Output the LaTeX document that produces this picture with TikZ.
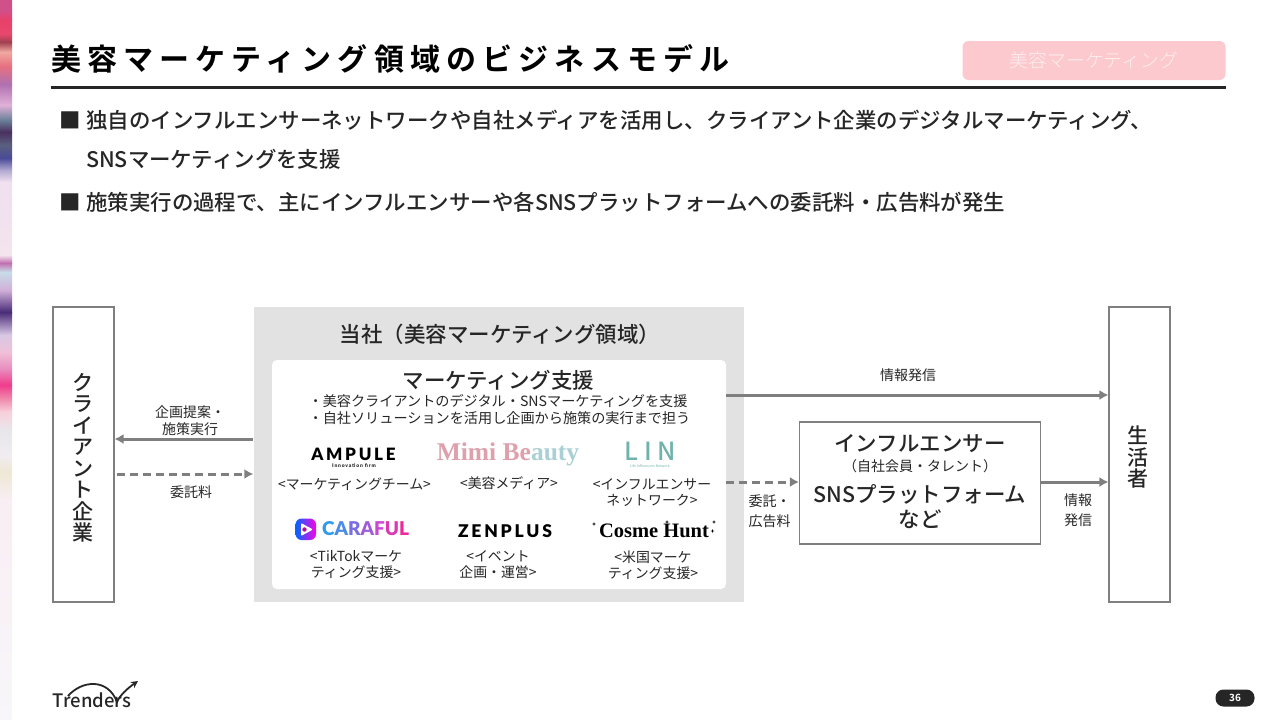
\documentclass[tikz,border=0pt]{standalone}
\usepackage{fontspec}
\setmainfont{Noto Sans CJK JP}[BoldFont={Noto Sans CJK JP Bold}]
\newfontfamily\titlefont{Noto Sans CJK JP Bold}[LetterSpace=20.5]
\newfontfamily\midfont{Noto Sans CJK JP Medium}
\newfontfamily\lightfont{Noto Sans CJK JP Light}
\newfontfamily\logofont{Lato Black}[LetterSpace=16]
\newfontfamily\roundfont{Lato Black}[LetterSpace=4]
\newfontfamily\seriffont{Liberation Serif Bold}
\usetikzlibrary{positioning,arrows.meta}
\lineskiplimit=-30pt
\definecolor{linegray}{HTML}{7F7F7F}
\definecolor{panelgray}{HTML}{E2E2E2}
\definecolor{textgray}{HTML}{262626}
\definecolor{tagpink}{HTML}{FBC9CE}
\definecolor{lincolor}{HTML}{70B2AC}
\tikzset{
    barbox/.style={draw=linegray,line width=1.1pt,fill=white,minimum width=61pt,minimum height=295pt,inner sep=0pt},
    bartext/.style={inner sep=0pt,align=center,font=\midfont\fontsize{21}{21.5}\selectfont,text=textgray},
    solidarrow/.style={draw=linegray,line width=3pt,-{Latex[length=9pt,width=10pt]}},
    dasharrow/.style={draw=linegray,line width=3pt,dash pattern=on 8pt off 5pt,-{Latex[length=9pt,width=10pt]}},
    smalllabel/.style={font=\fontsize{14}{17}\selectfont,text=textgray,align=center},
    widelabel/.style={font=\fontsize{14}{20}\selectfont,text=textgray,align=center},
    brandlabel/.style={font=\fontsize{13.9}{16}\selectfont,text=textgray,align=center},
    bullet/.style={font=\midfont\fontsize{21.45}{21.45}\selectfont,text=textgray,anchor=west,inner sep=0pt},
    heading/.style={font=\midfont\fontsize{21.45}{25}\selectfont,text=textgray,align=center},
}
\begin{document}
\begin{tikzpicture}[x=1pt,y=-1pt]
    \useasboundingbox (0,0) rectangle (1280,720);
    % Side strip
    \foreach \yb/\stripcolor [remember=\yb as \ya (initially 0),remember=\stripcolor as \stripprev (initially D0508A)] in {
        10/D0508A,20/E8406A,34/E8486E,42/A04050,52/F0A8A0,66/E87080,84/B070B0,105/E0B0D8,120/6A8098,132/4A3060,145/5A6080,158/4A4A98,170/B0A8D0,182/F0E0F0,255/F3E4EE,263/C070B0,272/C8DCE8,290/D0B0D8,312/4A2C78,335/D8C8E4,352/F0C0D8,368/E890C0,385/F03C8C,400/F090B0,412/F8D0DC,430/E8E6EA,455/F0ECF2,472/EEE8D4,500/F8EEF4,720/F8F6FA} {
        \definecolor{stripa}{HTML}{\stripprev}
        \definecolor{stripb}{HTML}{\stripcolor}
        \shade[top color=stripa,bottom color=stripb] (0,\ya) rectangle (12,\yb);
    }
    % Title
    \node[anchor=west,inner sep=0pt,font=\titlefont\fontsize{30}{30}\selectfont] (title) at (51,59) {美容マーケティング領域のビジネスモデル};
    \draw[textgray,line width=2.6pt] (51,87.5) -- (1226,87.5);
    \node[fill=tagpink,rounded corners=6pt,minimum width=263pt,minimum height=39pt,inner sep=0pt,text=white!70!tagpink,font=\lightfont\fontsize{18.9}{18.9}\selectfont] (tag) at (1094,60.5) {美容マーケティング};
    % Bullets
    \node[bullet] (sqa) at (59,120.5) {■};
    \node[bullet] (linea) at (86,120.5) {独自のインフルエンサーネットワークや自社メディアを活用し、クライアント企業のデジタルマーケティング、};
    \node[bullet] (lineb) at (86,159.5) {SNSマーケティングを支援};
    \node[bullet] (sqb) at (59,202.5) {■};
    \node[bullet] (linec) at (86,202.5) {施策実行の過程で、主にインフルエンサーや各SNSプラットフォームへの委託料・広告料が発生};
    % Main boxes
    \node[barbox] (client) at (83.5,454.5) {};
    \node[bartext] (clienttext) at (83,458) {ク\\ラ\\イ\\ア\\ン\\ト\\企\\業};
    \node[barbox] (consumer) at (1139.5,454.5) {};
    \node[bartext] (consumertext) at (1137.5,457.5) {生\\活\\者};
    \node[fill=panelgray,minimum width=490pt,minimum height=295pt,inner sep=0pt] (panel) at (498.5,454.5) {};
    \node[heading] (paneltitle) at (500,334) {当社（美容マーケティング領域）};
    \node[fill=white,rounded corners=5pt,minimum width=454pt,minimum height=229pt,inner sep=0pt] (support) at (499,474.5) {};
    \node[heading] (supporttitle) at (498.5,380) {マーケティング支援};
    \node[font=\fontsize{14.15}{17}\selectfont,text=textgray,align=left] (supporttext) at (499.5,410) {・美容クライアントのデジタル・SNSマーケティングを支援\\・自社ソリューションを活用し企画から施策の実行まで担う};
    % Logos
    \node[font=\logofont\fontsize{17}{17}\selectfont] (ampule) at (353.5,454) {AMPULE};
    \node[font=\logofont\fontsize{5}{5}\selectfont,text=textgray] (ampulesub) at (354,466) {Innovation firm};
    \node[font=\seriffont\fontsize{25.5}{25.5}\selectfont] (mimi) at (508,454) {\textcolor[HTML]{DDA0AC}{Mimi Be}\textcolor[HTML]{A9D0D4}{auty}};
    \node[font=\midfont\fontsize{25}{25}\selectfont,text=lincolor] (lin) at (650.5,451) {L I N};
    \node[font=\fontsize{3.5}{4}\selectfont,text=lincolor] (linsub) at (650,466) {Life Influencers Network};
    \shade[left color=blue!60!cyan,right color=magenta!90!red,rounded corners=6pt] (295.5,518.5) rectangle (316,540);
    \fill[fill=white,rounded corners=1pt] (301,523) -- (313,529.5) -- (301,536) -- cycle;
    \fill[fill=magenta!70!blue] (304.5,529.5) circle (2.2pt);
    \node[font=\roundfont\fontsize{19}{19}\selectfont,anchor=west,inner sep=0pt] (caraful) at (322,529) {\textcolor[HTML]{2F9BEA}{C}\textcolor[HTML]{4A8CE8}{A}\textcolor[HTML]{7A6EE0}{R}\textcolor[HTML]{A05CD8}{A}\textcolor[HTML]{C84AD0}{F}\textcolor[HTML]{DC38B4}{U}\textcolor[HTML]{EC2A9A}{L}};
    \node[font=\logofont\fontsize{17.5}{17.5}\selectfont] (zenplus) at (505,531) {ZENPLUS};
    \node[font=\seriffont\fontsize{20.5}{20.5}\selectfont] (cosme) at (654,531) {Cosme Hunt};
    \foreach \sx/\sy in {594/524,714/522,712.5/531,667/522}
        \fill[black] (\sx,\sy-1.8) -- (\sx+.5,\sy-.5) -- (\sx+1.8,\sy) -- (\sx+.5,\sy+.5) -- (\sx,\sy+1.8) -- (\sx-.5,\sy+.5) -- (\sx-1.8,\sy) -- (\sx-.5,\sy-.5) -- cycle;
    % Brand labels
    \node[brandlabel] (lampule) at (354.5,484) {<マーケティングチーム>};
    \node[brandlabel] (lmimi) at (509,483) {<美容メディア>};
    \node[brandlabel] (llin) at (652,492.5) {<インフルエンサー\\ネットワーク>};
    \node[brandlabel] (lcaraful) at (356,565) {<TikTokマーケ\\ティング支援>};
    \node[brandlabel] (lzenplus) at (498,565) {<イベント\\企画・運営>};
    \node[brandlabel] (lcosme) at (653,565) {<米国マーケ\\ティング支援>};
    % Influencer box
    \node[draw=linegray,line width=1.1pt,fill=white,minimum width=241pt,minimum height=122pt,inner sep=0pt] (influencer) at (920,483) {};
    \node[heading] (inflname) at (920,444) {インフルエンサー};
    \node[font=\fontsize{14}{14}\selectfont,text=textgray] (inflsub) at (920,466) {（自社会員・タレント）};
    \node[heading] (inflsns) at (920,507) {SNSプラットフォーム\\など};
    % Arrows
    \coordinate (cleft) at (253,439);
    \coordinate (dleft) at (117,474);
    \draw[solidarrow] (cleft) -- (client.east |- cleft);
    \draw[dasharrow] (dleft) -- (panel.west |- dleft);
    \draw[solidarrow] (support.east |- 0,395) -- (consumer.west |- 0,395);
    \draw[dasharrow] (support.east |- 0,482) -- (influencer.west |- 0,482);
    \draw[solidarrow] (influencer.east |- 0,482) -- (consumer.west |- 0,482);
    % Arrow labels
    \node[smalllabel] (lplan) at (190,420.5) {企画提案・\\施策実行};
    \node[smalllabel] (lfee) at (191,492) {委託料};
    \node[smalllabel] (linfo) at (908,375) {情報発信};
    \node[widelabel] (lad) at (769.5,511) {委託・\\広告料};
    \node[widelabel] (linfob) at (1078,510) {情報\\発信};
    % Footer
    \node[font=\midfont\fontsize{18.5}{18.5}\selectfont,text=textgray,inner sep=0pt] (logo) at (92,700) {Trenders};
    \draw[textgray,line width=1.8pt,-{Stealth[length=7pt,width=7pt]}] (68,696) .. controls (82,680) and (108,678) .. (117,702) .. controls (120,695) and (128,688) .. (138,681);
    \node[fill=textgray,rounded corners=8pt,minimum width=39pt,minimum height=17pt,inner sep=0pt,text=white,font=\bfseries\fontsize{10}{10}\selectfont] (page) at (1235,698) {36};
\end{tikzpicture}
\end{document}
